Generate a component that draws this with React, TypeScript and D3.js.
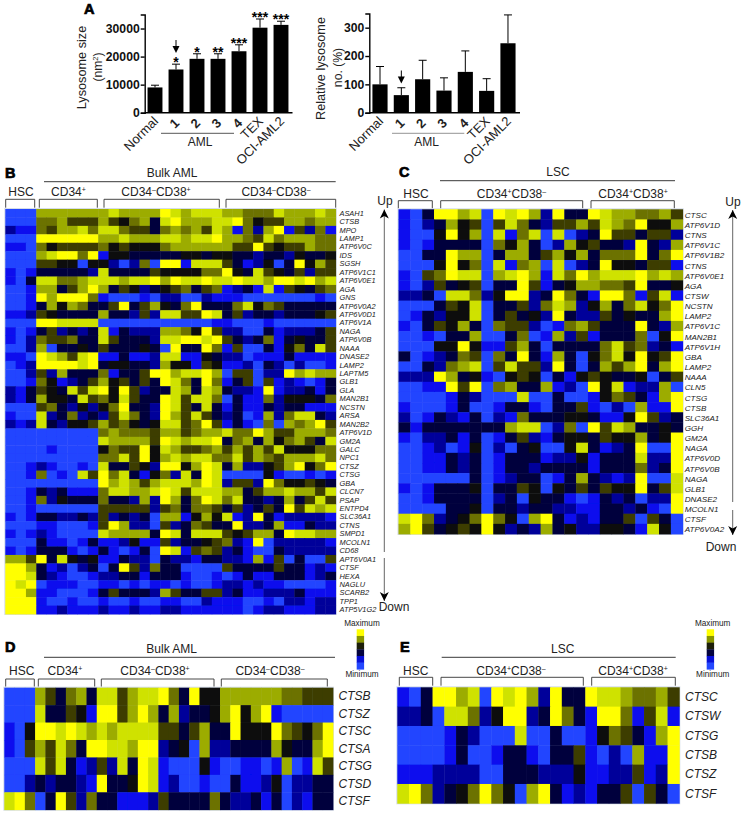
import React, { useEffect, useRef } from "react";
import * as d3 from "d3";

// ---------- Panel A data ----------
const barCategories = ["Normal", "1", "2", "3", "4", "TEX", "OCI-AML2"];
const sizeValues = [9000, 15400, 19200, 19200, 21900, 30300, 31300];
const sizeErrorTops = [9800, 17300, 21000, 21000, 24200, 33400, 32600];
const sizeStars = ["", "*", "*", "**", "***", "***", "***"];
const sizeTicks = [0, 10000, 20000, 30000];
const numberValues = [100, 62, 118, 78, 144, 77, 245];
const numberErrorTops = [163, 88, 185, 123, 218, 120, 345];
const numberTicks = [0, 100, 200, 300];

// ---------- Heatmap data: 0 = bright blue ... 4 = black ... 9 = yellow ----------
const heatLevels = ["#2244ff", "#0810ee", "#02029a", "#04043e", "#0b0b0b", "#3c3e00", "#6c7200", "#9cac00", "#cfe200", "#ffff00"];
const legendColours = ["#ffff00", "#8a9600", "#1c1e08", "#04043e", "#0810d8", "#2448ff"];

const bLabels = ["ASAH1","CTSB","MPO","LAMP1","ATP6V0C","IDS","SGSH","ATP6V1C1","ATP6V0E1","AGA","GNS","ATP6V0A2","ATP6V0D1","ATP6V1A","NAGA","ATP6V0B","NAAA","DNASE2","LAMP2","LAPTM5","GLB1","GLA","MAN2B1","NCSTN","ARSA","MAN2B2","ATP6V1D","GM2A","GALC","NPC1","CTSZ","CTSG","GBA","CLCN7","PSAP","ENTPD4","SLC36A1","CTNS","SMPD1","MCOLN1","CD68","APT6V0A1","CTSF","HEXA","NAGLU","SCARB2","TPP1","ATP5V1G2"];
const bRows = [
"000 777777 787777987 88877666877787",
"000 667555 754673897 77889645577677",
"211 657786 886553676 75871627915261",
"000 999999 778777887 88977658677766",
"110 645555 645444677 77775595455766",
"000 789969 144333334 43443323324334",
"000 554404 420260991 88853124039475",
"101 333332 833335444 46694385435255",
"103 886678 887889798 89889887998978",
"001 773579 735423456 35612318154356",
"001 979996 100010220 02111000000010",
"001 374763 359357436 93336846533333",
"112 543333 733252885 59835233233345",
"000 998888 000000000 00110001000000",
"101 352323 813222776 49522003122235",
"102 655633 853332889 98953236134335",
"002 703343 533343093 39615003146385",
"110 987589 113112881 14322011131111",
"012 999989 344332744 15411203202001",
"002 527333 613359978 89705502297877",
"001 641235 745353986 39613505121013",
"213 543858 949523387 38732219122313",
"213 744385 648533985 88603116244436",
"000 563242 469332985 38313113233111",
"100 823623 258632975 85323017268832",
"212 832445 756434885 69513106076795",
"000 000000 676665775 67786697557776",
"000 000000 877775987 88936737467538",
"000 010000 465594875 56757575844466",
"000 000000 668594787 88668576577786",
"001 210010 833542994 79837224579469",
"001 601085 968314628 39800004100101",
"000 000000 978757888 79825529644543",
"001 323111 688778985 88877357787758",
"001 624333 633272973 69868332373585",
"001 000000 555552563 66535235395878",
"101 332232 523230771 47481293122221",
"000 110001 597220523 65339223711322",
"101 210000 877773983 88854577398877",
"000 311013 112411523 34562190222221",
"101 333101 310130981 56523100322222",
"775 938434 113220322 13322171503005",
"997 312023 039526330 00053333533121",
"998 321001 223313331 00101311333123",
"989 011100 110101101 00122121100001",
"997 110001 353332753 35523112223111",
"999 100100 100100110 02111001022122",
"999 112111 211211221 11111012211122",
];

const cLabels = ["CTSC","ATP6V1D","CTNS","ATP6V1C","ATP6V1B2","CTNS","ATP6V0E1","AGA","CTSW","NCSTN","LAMP2","ATP6V1C","MAN2B1","ATP6V1H","GBA","LAMP2","NAAA","CLN5","CTSG","CTSB","SLC36A1","GGH","GM2A","NAGA","ATP6V0D","ATP6V0B","NAGA","GLB1","DNASE2","MCOLN1","CTSF","ATP6V0A2"];
const cRows = [
"103 9978098972933 98776675",
"102 3745058632557 58769447",
"100 4947081680802 39553552",
"101 3333064730274 53329327",
"003 3977037735747 36669369",
"000 4946081670802 39443551",
"105 6988078971869 78889787",
"102 5345033951347 76659334",
"223 0886249923963 19961581",
"000 3548033526872 47368469",
"013 2448035342932 25343379",
"103 5473065520167 53339327",
"001 0337003601725 13336049",
"000 4494115730333 36856231",
"301 2365063931730 46849459",
"003 2678058552930 37579379",
"222 9734104540314 54334035",
"001 1959067337120 94812270",
"000 0132000800300 14653179",
"100 0130013310335 10207119",
"201 3213021633344 31149523",
"313 3333337880260 95873343",
"102 2313013521344 35447349",
"001 2014020340048 31239009",
"001 1323013331224 13338229",
"001 1323013323333 13336239",
"000 0003012330137 32129008",
"101 3334033540435 35449358",
"001 3333023043310 13230229",
"000 0334033233221 13323109",
"896 2346964079312 13350530",
"795 3454942327342 24431840",
];

const dLabels = ["CTSB", "CTSZ", "CTSC", "CTSA", "CTSG", "CTSD", "CTSF"];
const dRows = [
"000 753673 885788963944 77777766555",
"000 833541 995797372334 79479100000",
"104 998987 878888553573 39444965469",
"105 758639 988799234072 23333743379",
"000 858312 528398100041 00110170185",
"002 323321 933498120010 03112402233",
"896 039526 331112533336 32231302133",
];

const eLabels = ["CTSC", "CTSW", "CTSG", "CTSB", "CTSZ", "CTSF"];
const eRows = [
"103 9978098972933 98876675",
"223 0886249923963 19961581",
"000 0132000800300 14653179",
"000 0130013310335 10207119",
"111 2222003332224 11225129",
"896 2346964079312 13350530",
];

const F = "'Liberation Sans', Arial, sans-serif";
const heatColour = d3.scaleLinear<string>().domain(d3.range(10)).range(heatLevels);

function YAxis({ scale, x, ticks }: any) {
  const ref = useRef<SVGGElement>(null);
  useEffect(() => {
    const g = d3.select(ref.current!);
    g.call(d3.axisLeft(scale).tickValues(ticks).tickSizeOuter(0).tickSize(4).tickPadding(1).tickFormat(d3.format("d")) as any);
    g.selectAll("path,line").attr("stroke", "#000").attr("stroke-width", 1.4);
    g.selectAll("text").attr("font-family", F).attr("font-size", 12.2).attr("font-weight", 700).attr("fill", "#111");
  }, []);
  return <g ref={ref} transform={`translate(${x},0)`} />;
}

function BarPanel({ axisX, endX, firstX, step, domainMax, top, values, errs, ticks, stars, arrowY, amlLine, amlX, amlStroke }: any) {
  const baseline = 112.7;
  const y = d3.scaleLinear().domain([0, domainMax]).range([baseline, top]);
  const x = d3.scaleBand<string>().domain(barCategories).range([firstX - step / 2, firstX + step * 6.5]).paddingInner(0.29).paddingOuter(0.145);
  const c1 = x("1")! + x.bandwidth() / 2;
  return (
    <g>
      <YAxis scale={y} x={axisX} ticks={ticks} />
      <line x1={axisX} x2={endX} y1={baseline} y2={baseline} stroke="#000" strokeWidth={1.4} />
      {barCategories.map((c, i) => {
        const bx = x(c)!;
        const cx = bx + x.bandwidth() / 2;
        const digit = c.length === 1;
        return (
          <g key={c}>
            <line x1={cx} x2={cx} y1={y(errs[i])} y2={y(values[i])} stroke="#000" strokeWidth={1} />
            <line x1={cx - 4} x2={cx + 4} y1={y(errs[i])} y2={y(errs[i])} stroke="#000" strokeWidth={1} />
            <rect x={bx} width={x.bandwidth()} y={y(values[i])} height={baseline - y(values[i])} fill="#000" />
            <text transform={`translate(${cx + 4},${digit ? 124 : 122}) rotate(-45)`} textAnchor="end"
              fontFamily={F} fontSize={13} fontWeight={digit ? 700 : 400} fill="#222">{c}</text>
            {stars && stars[i] && (
              <text x={cx} y={y(errs[i]) + 3} textAnchor="middle" fontFamily={F} fontSize={14} fontWeight={700} fill="#000">{stars[i]}</text>
            )}
          </g>
        );
      })}
      <line x1={c1} x2={c1} y1={arrowY} y2={arrowY + 8} stroke="#000" strokeWidth={1} />
      <path d={d3.line()([[c1 - 3.5, arrowY + 6], [c1 + 3.5, arrowY + 6], [c1, arrowY + 13]])! + "Z"} fill="#000" />
      <line x1={amlLine[0]} x2={amlLine[1]} y1={133.3} y2={133.3} stroke={amlStroke} strokeWidth={0.9} />
      <text x={amlX} y={146} textAnchor="middle" fontFamily={F} fontSize={12} fill="#222">AML</text>
    </g>
  );
}

function CDLabel({ parts, x, y }: any) {
  return (
    <text x={x} y={y} textAnchor="middle" fontFamily={F} fontSize={12} fill="#222">
      {parts.map((p: string, i: number) =>
        i % 2 === 0
          ? <tspan key={i} dy={i === 0 ? 0 : 4} fontSize={12}>{p}</tspan>
          : <tspan key={i} fontSize={7} dy={-4}>{p}</tspan>
      )}
    </text>
  );
}

function Bracket({ x1, x2, top, bottom }: any) {
  return <path d={`M${x1},${bottom}V${top}H${x2}V${bottom}`} fill="none" stroke="#333" strokeWidth={0.9} />;
}

function Heat({ id, rows, labels, left, right, top, bottom, labelX, fontSize, italicDy = 0 }: any) {
  const cells: number[][] = rows.map((r: string) => r.replace(/ /g, "").split("").map(Number));
  const nCols = d3.max(cells, (c) => c.length)!;
  const x = d3.scaleBand<number>().domain(d3.range(nCols)).range([left, right]);
  const y = d3.scaleBand<string>().domain(d3.range(labels.length).map(String)).range([top, bottom]);
  return (
    <g>
      <filter id={id} x="-2%" y="-2%" width="104%" height="104%">
        <feGaussianBlur stdDeviation={0.55} />
      </filter>
      <rect x={left - 1} y={top - 1} width={right - left + 2} height={bottom - top + 2} fill="#d5dce8" />
      <g filter={`url(#${id})`}>
        {cells.map((row, r) =>
          row.map((v, c) => (
            <rect key={`${r}-${c}`} x={x(c)} y={y(String(r))} width={x.bandwidth() + 0.4} height={y.bandwidth() + 0.4} fill={heatColour(v)} />
          ))
        )}
      </g>
      {labels.map((l: string, r: number) => (
        <text key={r} x={labelX} y={y(String(r))! + y.bandwidth() / 2 + italicDy} dominantBaseline="central" fontFamily={F} fontSize={fontSize} fontStyle="italic" fill="#222">{l}</text>
      ))}
    </g>
  );
}

function Legend({ x, cx }: any) {
  const y = d3.scaleBand<string>().domain(legendColours).range([629.3, 669.3]);
  return (
    <g>
      <text x={cx} y={626} textAnchor="middle" fontFamily={F} fontSize={8.2} fill="#222">Maximum</text>
      {legendColours.map((c) => <rect key={c} x={x} width={7.4} y={y(c)} height={y.bandwidth() + 0.3} fill={c} />)}
      <text x={cx} y={677.3} textAnchor="middle" fontFamily={F} fontSize={8.2} fill="#222">Minimum</text>
    </g>
  );
}

function Letter({ t, x, y }: any) {
  return <text x={x} y={y} fontFamily={F} fontSize={14.5} fontWeight={700} stroke="#000" strokeWidth={0.7} fill="#000">{t}</text>;
}

function VArrow({ x, y1, y2, gap }: any) {
  const head = (tipY: number, d: number) => d3.line()([[x - 4.5, tipY + d * 9], [x, tipY + d * 6.5], [x + 4.5, tipY + d * 9], [x, tipY]])! + "Z";
  return (
    <g>
      <line x1={x} x2={x} y1={y1} y2={gap[0]} stroke="#555" strokeWidth={0.9} />
      <line x1={x} x2={x} y1={gap[1]} y2={y2} stroke="#555" strokeWidth={0.9} />
      <path d={head(y1, 1)} fill="#000" />
      <path d={head(y2, -1)} fill="#000" />
    </g>
  );
}

const T = ({ x, y, children, size = 12, anchor = "middle", rotate }: any) => (
  <text x={rotate ? undefined : x} y={rotate ? undefined : y} transform={rotate ? `translate(${x},${y}) rotate(${rotate})` : undefined}
    textAnchor={anchor} fontFamily={F} fontSize={size} fill="#222">{children}</text>
);

export default function App() {
  return (
    <svg width={743} height={816} style={{ position: "absolute", left: 0, top: 0, background: "#fff" }}>
      {/* Panel A */}
      <Letter t="A" x={84} y={13.5} />
      <BarPanel axisX={144.7} endX={292.5} firstX={155} step={21} domainMax={35000} top={14.5}
        values={sizeValues} errs={sizeErrorTops} ticks={sizeTicks} stars={sizeStars} arrowY={40}
        amlLine={[161, 234]} amlX={200} amlStroke="#444" />
      <T x={86} y={67.5} size={12.7} rotate={-90}>Lysosome size</T>
      <T x={102} y={67} size={12.2} rotate={-90}>(nm<tspan fontSize={7.5} dy={-4}>2</tspan><tspan dy={4}>)</tspan></T>
      <BarPanel axisX={369.3} endX={520} firstX={380} step={21.33} domainMax={350} top={13.5}
        values={numberValues} errs={numberErrorTops} ticks={numberTicks} stars={null} arrowY={70.5}
        amlLine={[392, 464.3]} amlX={426.7} amlStroke="#888" />
      <T x={325} y={68.5} size={12.7} rotate={-90}>Relative lysosome</T>
      <T x={342} y={67.5} size={12.2} rotate={-90}>no. (%)</T>

      {/* Panel B */}
      <Letter t="B" x={5} y={178} />
      <T x={172} y={177}>Bulk AML</T>
      <line x1={44} x2={335.7} y1={181.7} y2={181.7} stroke="#222" strokeWidth={0.9} />
      <T x={21} y={196}>HSC</T>
      <CDLabel parts={["CD34", "+"]} x={68.5} y={196} />
      <CDLabel parts={["CD34", "–", "CD38", "+"]} x={156} y={196} />
      <CDLabel parts={["CD34", "–", "CD38", "–"]} x={276} y={196} />
      <Bracket x1={5.7} x2={34.7} top={199.3} bottom={207.7} />
      <Bracket x1={39.3} x2={97.3} top={199.3} bottom={207.7} />
      <Bracket x1={104} x2={219.3} top={199.3} bottom={207.7} />
      <Bracket x1={226} x2={335.7} top={199.3} bottom={207.7} />
      <Heat id="blurB" rows={bRows} labels={bLabels} left={5.3} right={335.7} top={209} bottom={614} labelX={339.5} fontSize={7.4} />
      <T x={385} y={205}>Up</T>
      <VArrow x={384.3} y1={209.5} y2={601} gap={[552, 558]} />
      <T x={394} y={611}>Down</T>

      {/* Panel C */}
      <Letter t="C" x={399} y={177} />
      <T x={558} y={176}>LSC</T>
      <line x1={440} x2={675} y1={180.7} y2={180.7} stroke="#222" strokeWidth={0.9} />
      <T x={416} y={197.7}>HSC</T>
      <CDLabel parts={["CD34", "+", "CD38", "–"]} x={511.5} y={197.7} />
      <CDLabel parts={["CD34", "+", "CD38", "+"]} x={633} y={197.7} />
      <Bracket x1={398.3} x2={432.3} top={200.7} bottom={208.5} />
      <Bracket x1={440.7} x2={582.7} top={200.7} bottom={208.5} />
      <Bracket x1={591} x2={674.3} top={200.7} bottom={208.5} />
      <Heat id="blurC" rows={cRows} labels={cLabels} left={398.5} right={682.7} top={209.3} bottom={534} labelX={684.7} fontSize={8.1} italicDy={1} />
      <T x={733} y={206}>Up</T>
      <VArrow x={732.7} y1={210} y2={535} gap={[502, 510]} />
      <T x={721} y={551}>Down</T>

      {/* Panel D */}
      <Letter t="D" x={5} y={652} />
      <T x={171.7} y={653.3}>Bulk AML</T>
      <line x1={44} x2={335} y1={657.3} y2={657.3} stroke="#222" strokeWidth={0.9} />
      <T x={21.7} y={675}>HSC</T>
      <CDLabel parts={["CD34", "+"]} x={65} y={675} />
      <CDLabel parts={["CD34", "–", "CD38", "+"]} x={155} y={675} />
      <CDLabel parts={["CD34", "–", "CD38", "–"]} x={270} y={675} />
      <Bracket x1={5.7} x2={34.3} top={679} bottom={686.7} />
      <Bracket x1={38.3} x2={94.7} top={679} bottom={686.7} />
      <Bracket x1={101.3} x2={214} top={679} bottom={686.7} />
      <Bracket x1={221.3} x2={327.3} top={679} bottom={686.7} />
      <Heat id="blurD" rows={dRows} labels={dLabels} left={4.3} right={333} top={687.7} bottom={809.7} labelX={338.5} fontSize={12} />
      <Legend x={356.7} cx={362} />

      {/* Panel E */}
      <Letter t="E" x={400} y={651.7} />
      <T x={562.7} y={653}>LSC</T>
      <line x1={441.7} x2={675.7} y1={657.3} y2={657.3} stroke="#222" strokeWidth={0.9} />
      <T x={415.7} y={675}>HSC</T>
      <CDLabel parts={["CD34", "+", "CD38", "–"]} x={511} y={675} />
      <CDLabel parts={["CD34", "+", "CD38", "+"]} x={633} y={675} />
      <Bracket x1={399.3} x2={432.7} top={677.3} bottom={685.7} />
      <Bracket x1={441} x2={583.3} top={677.3} bottom={685.7} />
      <Bracket x1={591.7} x2={675.3} top={677.3} bottom={685.7} />
      <Heat id="blurE" rows={eRows} labels={eLabels} left={397.3} right={679.3} top={687.3} bottom={803.3} labelX={685} fontSize={12} />
      <Legend x={706.7} cx={712.7} />
    </svg>
  );
}
